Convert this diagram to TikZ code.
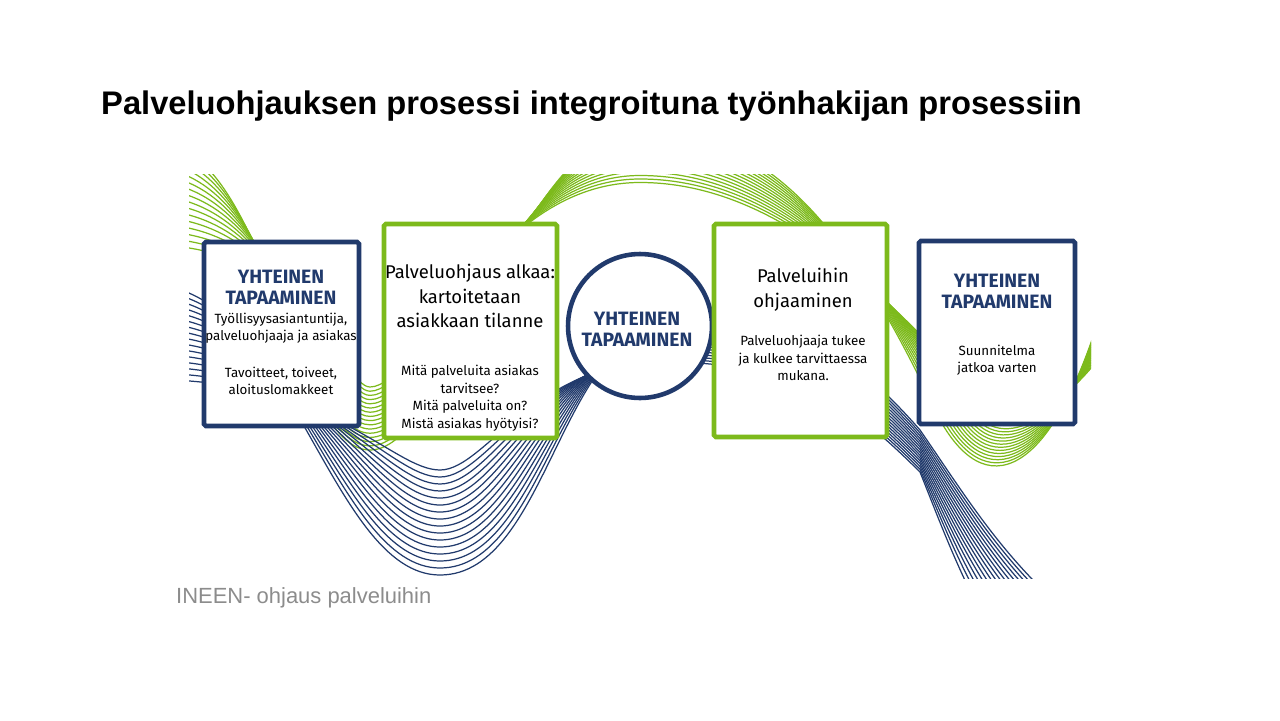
\documentclass[tikz,border=0pt]{standalone}
\usepackage{fontspec}
\setmainfont{Fira Sans}
\newfontfamily\titlefont{Liberation Sans}
\definecolor{navy}{HTML}{213A6C}
\definecolor{lime}{HTML}{7DBA1C}
\definecolor{capgray}{HTML}{8C8C8C}
\begin{document}
\begin{tikzpicture}[x=0.02cm,y=-0.02cm,
    wave/.style={line width=0.7pt},
    card/.style={fill=white, line width=2.6pt, rounded corners=1pt, inner sep=0pt},
    head/.style={text=navy, font=\bfseries\fontsize{11}{13}\selectfont, align=center},
    body/.style={font=\fontsize{7.6}{10}\selectfont, align=center},
    big/.style={font=\fontsize{10.5}{14}\selectfont, align=center}]
  \useasboundingbox (0,0) rectangle (1280,720);
  % Title and caption
  \node[anchor=west, font=\titlefont\bfseries\fontsize{18.6}{22}\selectfont] (title) at (95,106) {Palveluohjauksen prosessi integroituna työnhakijan prosessiin};
  \node[anchor=west, text=capgray, font=\titlefont\fontsize{12.5}{14}\selectfont] (caption) at (170,598) {INEEN- ohjaus palveluihin};
  % Waves
  \begin{scope}
    \clip (189,174) rectangle (1091,578);
    \foreach \i in {0,...,15}{
      \pgfmathsetmacro\d{7*\i}
      \draw[wave, lime] (150,140+\d) .. controls (270+0.4*\d,140+\d) and (290+0.5*\d,450-0.6*\d) .. (370,450-0.6*\d)
        .. controls (450-0.3*\d,450-0.6*\d) and (520-0.3*\d,130+0.5*\d) .. (640,130+0.5*\d)
        .. controls (780,130+0.5*\d) and (860+0.3*\d,250+0.5*\d) .. (940+0.3*\d,420-0.3*\d)
        .. controls (990,510-0.6*\d) and (1060,470-0.5*\d) .. (1110,280+0.6*\d);
      \draw[wave, navy] (150,285+0.9*\d) .. controls (290+0.4*\d,285+0.9*\d) and (330+0.6*\d,575-\d) .. (440,575-\d)
        .. controls (550-0.6*\d,575-\d) and (560-0.2*\d,320+0.3*\d) .. (680,320+0.4*\d)
        .. controls (800,325+0.4*\d) and (850,350+0.5*\d) .. (920,430+0.4*\d)
        .. controls (975-0.3*\d,510+0.2*\d) and (1010-0.5*\d,570) .. (1100-\d,640);
    }
  \end{scope}
  % Cards
  \node[card, draw=navy, minimum width=3.1cm, minimum height=3.68cm] (meet1) at (281.5,334) {};
  \node[card, draw=lime, minimum width=3.46cm, minimum height=4.28cm] (start) at (470.5,331) {};
  \node[card, draw=navy, circle, minimum size=2.88cm] (meet2) at (640,326) {};
  \node[card, draw=lime, minimum width=3.46cm, minimum height=4.26cm] (guide) at (800.5,330.5) {};
  \node[card, draw=navy, minimum width=3.12cm, minimum height=3.66cm] (meet3) at (997,332.5) {};
  % Texts
  \node[head] (h1) at (281,287) {YHTEINEN\\[-1pt]TAPAAMINEN};
  \node[body] (b1) at (281,328) {Työllisyysasiantuntija,\\palveluohjaaja ja asiakas};
  \node[body] (c1) at (281,381) {Tavoitteet, toiveet,\\aloituslomakkeet};
  \node[big] (h2) at (470,296) {Palveluohjaus alkaa:\\kartoitetaan\\asiakkaan tilanne};
  \node[body] (b2) at (470,398) {Mitä palveluita asiakas\\tarvitsee?\\Mitä palveluita on?\\Mistä asiakas hyötyisi?};
  \node[head] (h3) at (637,329) {YHTEINEN\\[-1pt]TAPAAMINEN};
  \node[big] (h4) at (803,290) {Palveluihin\\ohjaaminen};
  \node[body] (b4) at (803,358) {Palveluohjaaja tukee\\ja kulkee tarvittaessa\\mukana.};
  \node[head] (h5) at (997,291) {YHTEINEN\\[-1pt]TAPAAMINEN};
  \node[body] (b5) at (997,360) {Suunnitelma\\jatkoa varten};
\end{tikzpicture}
\end{document}
